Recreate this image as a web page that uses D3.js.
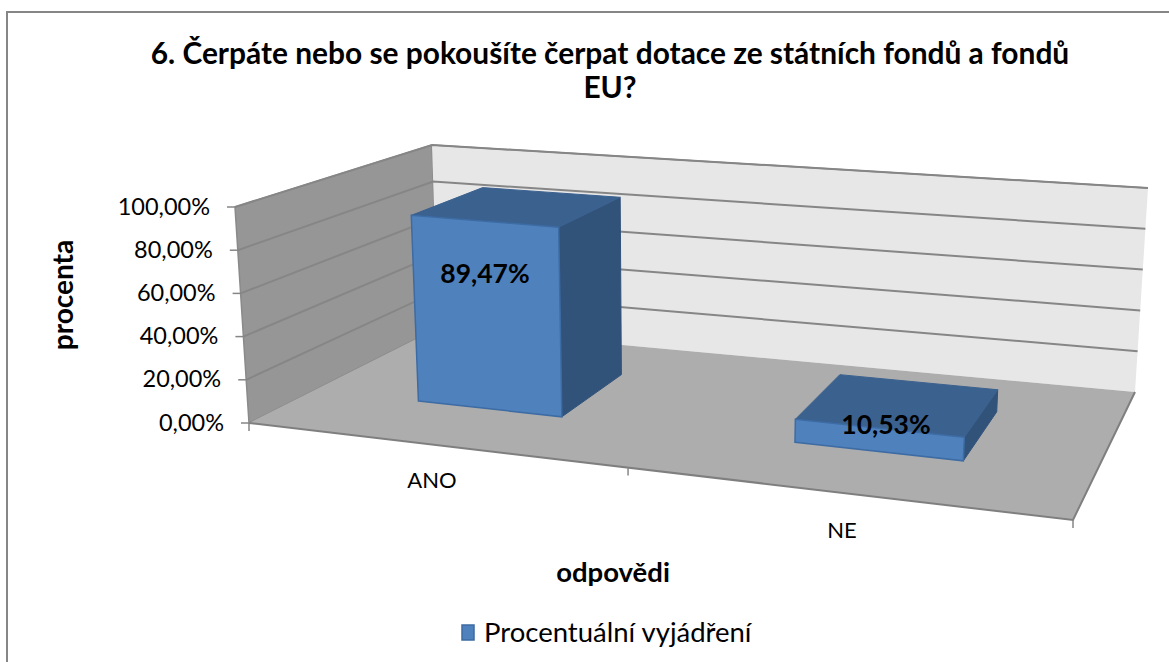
<!DOCTYPE html>
<html>
<head>
<meta charset="utf-8">
<script src="https://cdn.jsdelivr.net/npm/d3@7"></script>
<style>
  html, body { margin: 0; padding: 0; background: #fff; overflow: hidden; }
  svg { display: block; }
  text { font-family: Lato, "Open Sans", sans-serif; fill: #000; }
</style>
</head>
<body>
<div id="chart"></div>
<script>
const categories = ["ANO", "NE"];
const values = [89.47, 10.53];
const valueLabels = ["89,47%", "10,53%"];
const valueTicks = [0, 20, 40, 60, 80, 100];
const tickLabels = ["0,00%", "20,00%", "40,00%", "60,00%", "80,00%", "100,00%"];
const titleLines = ["6. Čerpáte nebo se pokoušíte čerpat dotace ze státních fondů a fondů", "EU?"];
const seriesName = "Procentuální vyjádření";

const width = 1169, height = 662;

// corners of the 3d box on screen, named front/back, left/right
const box = {
    fl0: [249, 423], fr0: [1073, 520], bl0: [438, 328], br0: [1135, 392],
    fl1: [235, 207], fr1: [1086, 279], bl1: [432, 145], br1: [1148, 188]
};

const svg = d3.select("#chart").append("svg")
    .attr("width", width)
    .attr("height", height);

// category axis runs through a small perspective warp
const warp = d3.scaleLinear().domain([0, 0.5, 1]).range([0, 0.46, 1]);
const band = d3.scaleBand().domain(categories).range([-0.006, 0.994]).paddingInner(0.6).paddingOuter(0.3);
const level = d3.scaleLinear().domain([0, 100]).range([0, 1]);
const barFront = 0.35, barBack = 0.75;

function mix(a, b, t) {
    return [a[0] + (b[0] - a[0]) * t, a[1] + (b[1] - a[1]) * t];
}
// t along category axis, d into depth, v up the value axis
function project(t, d, v) {
    const u = warp(t);
    const bottom = mix(mix(box.fl0, box.fr0, u), mix(box.bl0, box.br0, u), d);
    const top = mix(mix(box.fl1, box.fr1, u), mix(box.bl1, box.br1, u), d);
    return mix(bottom, top, v);
}
const poly = pts => "M" + pts.map(p => p.join(",")).join("L") + "Z";

// outer frame, runs off the right and bottom of the picture
svg.append("rect")
    .attr("x", 7).attr("y", 12)
    .attr("width", 1200).attr("height", 700)
    .attr("fill", "#fff").attr("stroke", "#868686").attr("stroke-width", 2);

// walls and floor
svg.append("path").attr("d", poly([box.fl0, box.bl0, box.bl1, box.fl1]))
    .attr("fill", "#969696").attr("stroke", "#8a8a8a").attr("stroke-width", 1.5);
svg.append("path").attr("d", poly([box.bl0, box.br0, box.br1, box.bl1]))
    .attr("fill", "#e7e7e7");
svg.append("path").attr("d", poly([box.bl1, box.br1])).attr("stroke", "#868686").attr("stroke-width", 1.5).attr("fill", "none");

// gridlines on both walls
const gridLine = d3.line();
svg.append("g").selectAll("path")
    .data(valueTicks.filter(v => v > 0))
    .join("path")
    .attr("d", v => gridLine([project(0, 0, level(v)), project(0, 1, level(v)), project(1, 1, level(v))]))
    .attr("fill", "none")
    .attr("stroke", "#868686")
    .attr("stroke-width", 2);

svg.append("path").attr("d", poly([box.fl0, box.fr0, box.br0, box.bl0]))
    .attr("fill", "#adadad");
svg.append("path").attr("d", gridLine([box.fl0, box.fr0, box.br0]))
    .attr("fill", "none").attr("stroke", "#7f7f7f").attr("stroke-width", 2);

// bars
const bars = svg.append("g").selectAll("g")
    .data(categories.map((c, i) => ({ c: c, v: values[i], label: valueLabels[i] })))
    .join("g");

bars.each(function(b) {
    const g = d3.select(this);
    const t0 = band(b.c), t1 = t0 + band.bandwidth(), top = level(b.v);
    const p = (t, d, v) => project(t, d, v);
    g.append("path")
        .attr("d", poly([p(t1, barFront, 0), p(t1, barBack, 0), p(t1, barBack, top), p(t1, barFront, top)]))
        .attr("fill", "#315279").attr("stroke", "#315279");
    g.append("path")
        .attr("d", poly([p(t0, barFront, top), p(t1, barFront, top), p(t1, barBack, top), p(t0, barBack, top)]))
        .attr("fill", "#3b618f").attr("stroke", "#3b618f");
    g.append("path")
        .attr("d", poly([p(t0, barFront, 0), p(t1, barFront, 0), p(t1, barFront, top), p(t0, barFront, top)]))
        .attr("fill", "#4f81bd").attr("stroke", "#3d6ba3").attr("stroke-width", 1.5);
});

// value axis, ticks follow the slanted front edge
const yScreen = d3.scaleLinear().domain([0, 100]).range([project(0, 0, 0)[1], project(0, 0, 1)[1]]);
const yAxis = d3.axisLeft(yScreen)
    .tickValues(valueTicks)
    .tickSize(8)
    .tickPadding(17)
    .tickFormat((d, i) => tickLabels[i]);
const yG = svg.append("g").call(yAxis);
yG.select(".domain").remove();
yG.selectAll(".tick")
    .attr("transform", d => "translate(" + project(0, 0, level(d))[0] + "," + yScreen(d) + ")");
yG.selectAll(".tick line").attr("stroke", "#868686").attr("stroke-width", 1.5);
yG.selectAll(".tick text").style("font-size", "23.5px").attr("fill", "#000");

// category ticks
svg.append("g").selectAll("line")
    .data([0, 0.5, 1])
    .join("line")
    .attr("x1", t => project(t, 0, 0)[0])
    .attr("x2", t => project(t, 0, 0)[0])
    .attr("y1", t => project(t, 0, 0)[1])
    .attr("y2", t => project(t, 0, 0)[1] + 8)
    .attr("stroke", "#868686")
    .attr("stroke-width", 1.5);

const catLabels = [[432, 488], [842, 538]];
svg.append("g").selectAll("text")
    .data(categories)
    .join("text")
    .attr("x", (c, i) => catLabels[i][0])
    .attr("y", (c, i) => catLabels[i][1])
    .attr("text-anchor", "middle")
    .style("font-size", "22px")
    .text(c => c);

// data labels
const labelSpots = [[485, 283], [886, 434]];
svg.append("g").selectAll("text")
    .data(valueLabels)
    .join("text")
    .attr("x", (c, i) => labelSpots[i][0])
    .attr("y", (c, i) => labelSpots[i][1])
    .attr("text-anchor", "middle")
    .style("font-size", "26.5px")
    .style("font-weight", 700)
    .text(c => c);

// titles
svg.append("g").selectAll("text")
    .data(titleLines)
    .join("text")
    .attr("x", 610)
    .attr("y", (l, i) => 64 + i * 34)
    .attr("text-anchor", "middle")
    .style("font-size", "29.9px")
    .style("font-weight", 700)
    .text(l => l);

svg.append("text")
    .attr("text-anchor", "middle")
    .attr("transform", "translate(73,295) rotate(-90)")
    .style("font-size", "28px")
    .style("font-weight", 700)
    .text("procenta");

svg.append("text")
    .attr("x", 613).attr("y", 582)
    .attr("text-anchor", "middle")
    .style("font-size", "27.5px")
    .style("font-weight", 700)
    .text("odpovědi");

// legend
svg.append("rect")
    .attr("x", 462).attr("y", 625)
    .attr("width", 12).attr("height", 15)
    .attr("fill", "#4f81bd").attr("stroke", "#3d6ba3").attr("stroke-width", 1.5);
svg.append("text")
    .attr("x", 484).attr("y", 642)
    .style("font-size", "27.5px")
    .text(seriesName);
</script>
</body>
</html>
